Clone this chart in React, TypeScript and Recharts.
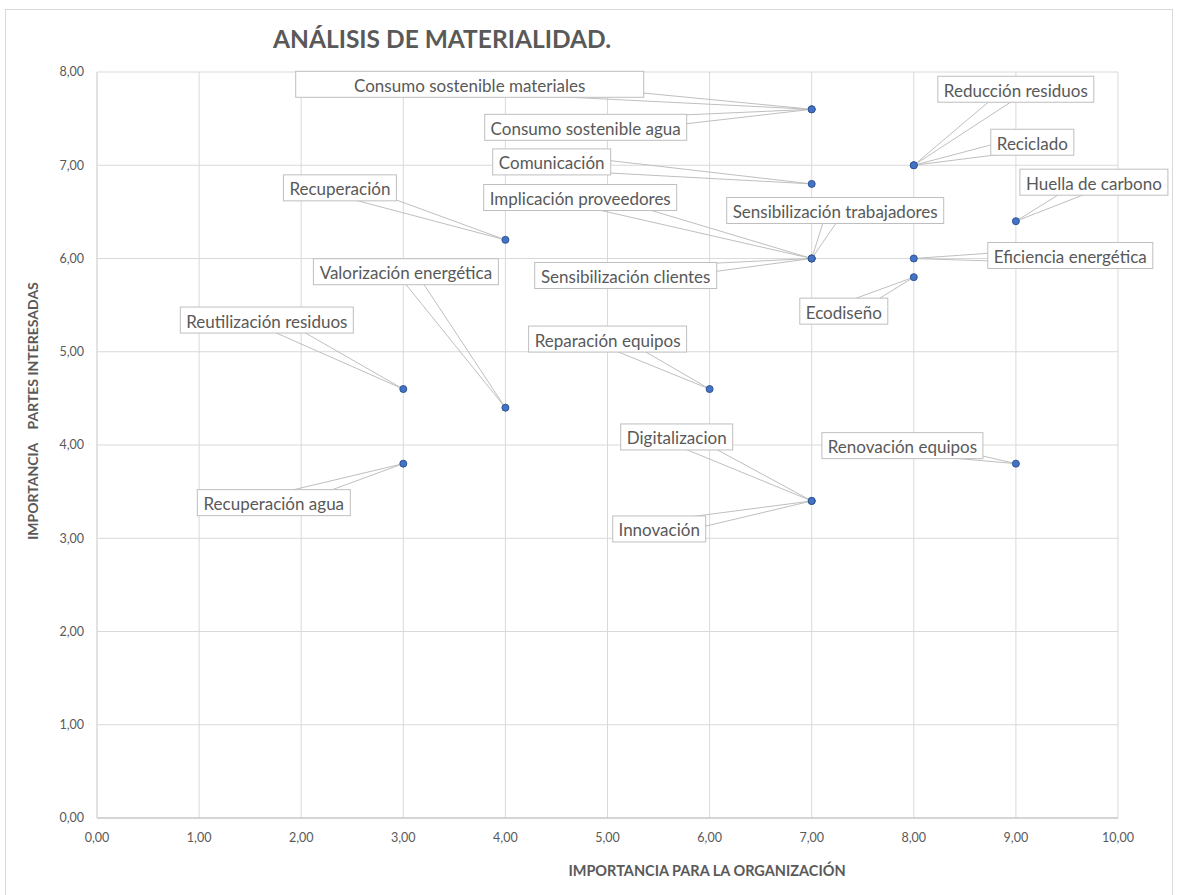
// Matriz de materialidad — dispersión con llamadas (callouts) estilo Excel

import { ScatterChart, Scatter, XAxis, YAxis, CartesianGrid } from 'recharts'

// ─────────────────────────────────────────────────────────────
// Datos
// ─────────────────────────────────────────────────────────────
const topics = [
  'Consumo sostenible materiales',
  'Consumo sostenible agua',
  'Comunicación',
  'Implicación proveedores',
  'Sensibilización trabajadores',
  'Sensibilización clientes',
  'Recuperación',
  'Reducción residuos',
  'Reciclado',
  'Huella de carbono',
  'Eficiencia energética',
  'Ecodiseño',
  'Valorización energética',
  'Reutilización residuos',
  'Reparación equipos',
  'Recuperación agua',
  'Digitalizacion',
  'Innovación',
  'Renovación equipos',
]

// importancia para la organización (eje X)
const orgImportance = [7, 7, 7, 7, 7, 7, 4, 8, 8, 9, 8, 8, 4, 3, 6, 3, 7, 7, 9]
// importancia partes interesadas (eje Y)
const stakeholderImportance = [
  7.6, 7.6, 6.8, 6.0, 6.0, 6.0, 6.2, 7.0, 7.0, 6.4, 6.0, 5.8, 4.4, 4.6, 4.6, 3.8, 3.4, 3.4, 3.8,
]

const xTicks = [0, 1, 2, 3, 4, 5, 6, 7, 8, 9, 10]
const yTicks = [0, 1, 2, 3, 4, 5, 6, 7, 8]

// ─────────────────────────────────────────────────────────────
// Colocación de las llamadas: borde izquierdo y centro vertical de la caja,
// en px relativos al punto; ancho fijo sólo cuando la caja es más ancha que el texto
// ─────────────────────────────────────────────────────────────
const calloutLeft = [-516, -327, -319, -328, -85, -277, -222, 24, 77, 4, 74, -114, -192, -223, -181, -206, -191, -199, -194]
const calloutDy = [-25, 18, -22, -61, -48, 17, -52, -76, -23, -39, -3, 34, -136, -69, -50, 39, -64, 28, -18]
const calloutWidth: (number | null)[] = [348, null, null, null, null, null, null, null, null, null, null, null, null, null, null, null, null, null, null]

const data = topics.map((name, i) => ({
  name,
  x: orgImportance[i],
  y: stakeholderImportance[i],
  left: calloutLeft[i],
  dy: calloutDy[i],
  w: calloutWidth[i],
}))

const FONT = 'Lato, "Open Sans", sans-serif'
const TEXT = '#595959'
const LINE = '#bfbfbf'
const LABEL_SIZE = 17
const fmt = (v: number) => v.toFixed(2).replace('.', ',')

// medir el texto para ajustar la caja
let ctx: CanvasRenderingContext2D | null = null
function textWidth(s: string): number {
  if (!ctx) ctx = document.createElement('canvas').getContext('2d')
  if (!ctx) return s.length * 8
  ctx.font = `${LABEL_SIZE}px Lato`
  return ctx.measureText(s).width
}

// ─────────────────────────────────────────────────────────────
// Formas personalizadas
// ─────────────────────────────────────────────────────────────
function Callout(props: any) {
  const { cx, cy, payload } = props
  if (cx == null || cy == null) return null
  const w = payload.w ?? Math.round(textWidth(payload.name) + 12)
  const h = 26
  const bx = cx + payload.left + w / 2
  const by = cy + payload.dy
  // cuña: base centrada en la caja, perpendicular a la dirección del punto
  const vx = cx - bx
  const vy = cy - by
  const len = Math.hypot(vx, vy) || 1
  const nx = -vy / len
  const ny = vx / len
  const hw = 8
  const pts = `${bx + nx * hw},${by + ny * hw} ${cx},${cy} ${bx - nx * hw},${by - ny * hw}`
  return (
    <g>
      <polyline points={pts} fill="none" stroke={LINE} strokeWidth={1} />
      <rect x={bx - w / 2} y={by - h / 2} width={w} height={h} fill="#fff" stroke={LINE} strokeWidth={1} />
      <text
        x={bx}
        y={by + 1}
        textAnchor="middle"
        dominantBaseline="central"
        fontFamily={FONT}
        fontSize={LABEL_SIZE}
        fill={TEXT}
      >
        {payload.name}
      </text>
    </g>
  )
}

function Dot(props: any) {
  const { cx, cy } = props
  if (cx == null || cy == null) return null
  return <circle cx={cx} cy={cy} r={3.5} fill="#4472c4" stroke="#2f5597" strokeWidth={1} />
}

// ─────────────────────────────────────────────────────────────
// Componente principal
// ─────────────────────────────────────────────────────────────
export default function App() {
  return (
    <div style={{ position: 'absolute', left: 0, top: 0, width: 1178, height: 895, background: '#fff', overflow: 'hidden' }}>
      <div
        style={{
          position: 'absolute', left: 5, top: 9, width: 1168, height: 900,
          border: '1px solid #d9d9d9', boxSizing: 'border-box',
        }}
      />
      <div
        style={{
          position: 'absolute', left: 273, top: 24, fontFamily: FONT, fontWeight: 700,
          fontSize: 24.5, color: TEXT, whiteSpace: 'nowrap', lineHeight: 1.2,
        }}
      >
        ANÁLISIS DE MATERIALIDAD.
      </div>
      <ScatterChart
        width={1178}
        height={895}
        margin={{ top: 72, right: 60, bottom: 47, left: 37 }}
        style={{ position: 'absolute', left: 0, top: 0 }}
      >
        <CartesianGrid stroke="#d9d9d9" />
        <XAxis
          type="number"
          dataKey="x"
          domain={[0, 10]}
          ticks={xTicks}
          tickFormatter={fmt}
          interval={0}
          tickLine={false}
          axisLine={{ stroke: LINE }}
          tickMargin={9}
          height={30}
          tick={{ fontSize: 12.5, fill: TEXT, fontFamily: FONT }}
        />
        <YAxis
          type="number"
          dataKey="y"
          domain={[0, 8]}
          ticks={yTicks}
          tickFormatter={fmt}
          interval={0}
          tickLine={false}
          axisLine={{ stroke: '#d9d9d9' }}
          tickMargin={7}
          width={60}
          tick={{ fontSize: 12.5, fill: TEXT, fontFamily: FONT }}
        />
        <Scatter data={data} shape={<Callout />} isAnimationActive={false} />
        <Scatter data={data} shape={<Dot />} isAnimationActive={false} />
      </ScatterChart>
      <div
        style={{
          position: 'absolute', left: 0, width: 1178, top: 862, textAlign: 'center',
          paddingLeft: 236, boxSizing: 'border-box', fontFamily: FONT, fontWeight: 700,
          fontSize: 14.5, color: TEXT, whiteSpace: 'nowrap', lineHeight: 1.2,
        }}
      >
        IMPORTANCIA PARA LA ORGANIZACIÓN
      </div>
      <div
        style={{
          position: 'absolute', left: 33, top: 411, transform: 'translate(-50%, -50%) rotate(-90deg)',
          fontFamily: FONT, fontWeight: 700, fontSize: 14, color: TEXT, whiteSpace: 'pre', lineHeight: 1.2,
        }}
      >
        {'IMPORTANCIA    PARTES INTERESADAS'}
      </div>
    </div>
  )
}
